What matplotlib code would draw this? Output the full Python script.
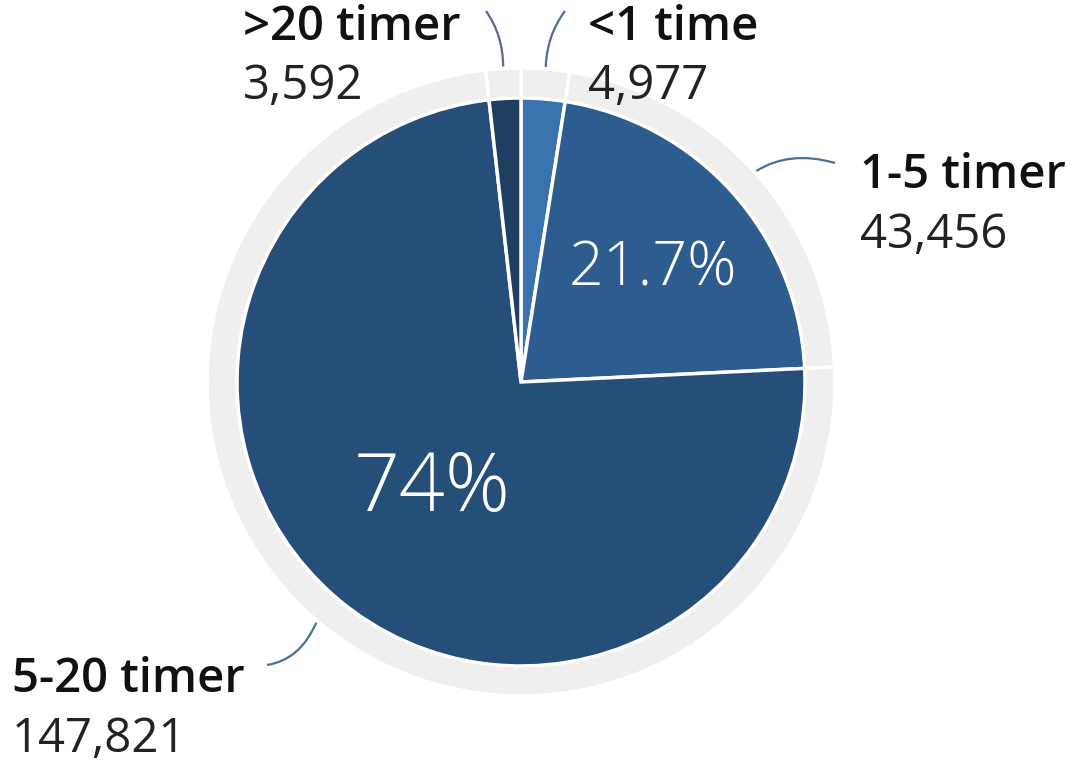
import numpy as np
import matplotlib.pyplot as plt
from matplotlib.path import Path
from matplotlib.patches import PathPatch

# data
categories = ["<1 time", "1-5 timer", "5-20 timer", ">20 timer"]
values = [4977, 43456, 147821, 3592]
colors = ["#3a72ad", "#2d5d8f", "#254e79", "#1f3e62"]
show_pct = [False, True, True, False]

W, H = 1076, 766
fig = plt.figure(figsize=(W / 100, H / 100), dpi=100)
ax = fig.add_axes([0, 0, 1, 1])

cx, cy = 521, H - 382   # pie centre (y measured from bottom)
r_in, r_out = 284, 314

# grey outer ring, split the same way as the pie
ax.pie(values, startangle=90, counterclock=False, center=(cx, cy), radius=r_out,
       colors=["#efefef"] * len(values),
       wedgeprops=dict(edgecolor="white", linewidth=2.5))
# inner pie
ax.pie(values, startangle=90, counterclock=False, center=(cx, cy), radius=r_in,
       colors=colors, wedgeprops=dict(edgecolor="white", linewidth=2.5))

ax.set_xlim(0, W)
ax.set_ylim(0, H)
ax.set_aspect("equal")
ax.axis("off")

total = sum(values)
fracs = np.array(values) / total
ends = 90 - np.cumsum(fracs) * 360
starts = ends + fracs * 360
mids = (starts + ends) / 2

# percentage labels inside the big slices
pct_pos = {1: (653, 270, 44), 2: (432, 490, 58)}
for i, v in enumerate(values):
    if not show_pct[i]:
        continue
    x, y, fs = pct_pos[i]
    p = round(v / total * 100, 1)
    txt = f"{p:g}%"
    ax.text(x, H - y, txt, color="white", fontsize=fs, ha="center", va="center",
            family="Open Sans", fontweight="light")

# outside labels: (label x, label centre y, leader end x, leader end y, control x, control y)
label_pos = {
    0: (588, 27, 565, 11, 547, 35),
    1: (860, 176, 835, 163, 790, 150),
    2: (12, 680, 267, 665, 300, 660),
    3: (243, 27, 486, 11, 503, 35),
}
lead_col = "#4a6f98"
for i, name in enumerate(categories):
    lx, ly, ex, ey, qx, qy = label_pos[i]
    a = np.deg2rad(mids[i])
    sx = cx + (r_out + 2) * np.cos(a)
    sy = cy + (r_out + 2) * np.sin(a)
    path = Path([(sx, sy), (qx, H - qy), (ex, H - ey)],
                [Path.MOVETO, Path.CURVE3, Path.CURVE3])
    ax.add_patch(PathPatch(path, fill=False, edgecolor=lead_col, lw=1.6))
    ax.text(lx, H - ly, name, fontsize=34, ha="left", va="center",
            family="Open Sans", fontweight="semibold", color="#111111")
    ax.text(lx, H - ly - 59, f"{values[i]:,}", fontsize=34, ha="left", va="center",
            family="Open Sans", color="#222222")

fig.savefig("out.png", dpi=100)
